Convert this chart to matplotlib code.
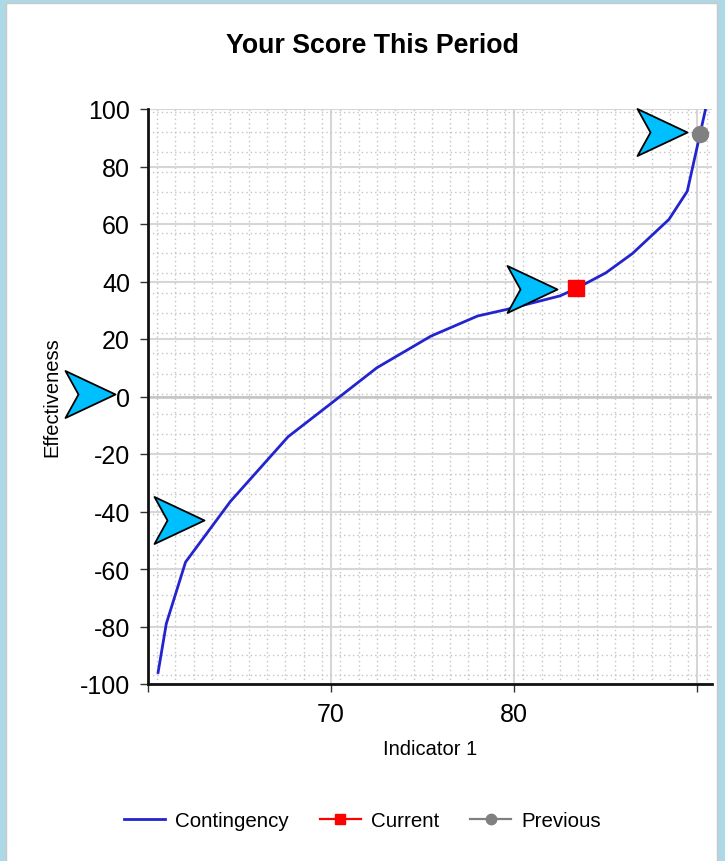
import matplotlib
matplotlib.use('Agg')
import matplotlib.pyplot as plt
from matplotlib.path import Path
from matplotlib.patches import Rectangle
from matplotlib.ticker import MultipleLocator, FixedLocator

plt.rcParams['font.family'] = ['Liberation Sans', 'DejaVu Sans']
plt.rcParams['axes.unicode_minus'] = False

# curve
indicator = [60.55, 61.0, 62.05, 64.5, 67.65, 70.0, 72.5, 75.45, 78.0, 79.6,
             82.5, 83.4, 85.0, 86.45, 88.45, 89.45, 90.15, 90.45]
effectiveness = [-96, -79, -57.6, -36.5, -14, -2.4, 10, 21, 28, 30.3,
                 35, 37.6, 43, 49.7, 61.6, 71.4, 91.4, 100]

current_x, current_y = [83.4], [37.6]
previous_x, previous_y = [90.15], [91.4]

# where the blue pointers aim
pointer_x = [89.44, 82.36, 58.2, 63.06]
pointer_y = [92.1, 37.5, 0.9, -43]

x_ticks = [60, 70, 80, 90]
x_labels = ['', '70', '80', '']
y_ticks = list(range(-100, 101, 20))

fig = plt.figure(figsize=(7.25, 8.62), dpi=100, facecolor='#add8e6')
fig.patches.append(Rectangle((6 / 725, -0.01), 711 / 725, 1 - 4 / 862 + 0.01,
                             transform=fig.transFigure, facecolor='white',
                             edgecolor='#c8c8c8', lw=1, zorder=-5))

ax = fig.add_axes([148 / 725, 1 - 685 / 862, 564 / 725, 575 / 862])
ax.set_facecolor('none')
ax.set_xlim(60, 90.8)
ax.set_ylim(-100, 100)

# grid: solid majors, dotted minors
ax.xaxis.set_major_locator(FixedLocator(x_ticks))
ax.set_xticklabels(x_labels)
ax.yaxis.set_major_locator(FixedLocator(y_ticks))
ax.xaxis.set_minor_locator(MultipleLocator(1, offset=0.5))
ax.yaxis.set_minor_locator(MultipleLocator(7, offset=1))
ax.grid(which='major', color='#d6d6d6', lw=1.5, ls='-')
ax.grid(which='minor', color='#c4c4c4', lw=1.0, ls=(0, (1, 2.2)))
ax.axhline(0, color='#c4c4c4', lw=1.8, zorder=1)
ax.set_axisbelow(True)

for side in ['top', 'right']:
    ax.spines[side].set_visible(False)
for side in ['left', 'bottom']:
    ax.spines[side].set_linewidth(2)
    ax.spines[side].set_color('#111111')

ax.tick_params(which='major', length=6, width=1, color='#333333',
               labelsize=18, pad=7)
ax.tick_params(which='minor', length=0)

ax.plot(indicator, effectiveness, color='#2424cf', lw=2.0, label='Contingency',
        zorder=3)
ax.plot(current_x, current_y, color='#ff0000', marker='s', ms=11.5, lw=1.6,
        label='Current', zorder=4)
ax.plot(previous_x, previous_y, color='#808080', marker='o', ms=11.5, lw=1.6,
        label='Previous', zorder=4, clip_on=False)

# chevron pointer, tip at the origin
chevron = Path([(0, 0), (-50, 23.5), (-37, 0), (-50, -23.5), (0, 0)],
               [Path.MOVETO, Path.LINETO, Path.LINETO, Path.LINETO, Path.CLOSEPOLY])
ax.plot(pointer_x, pointer_y, ls='none', marker=chevron, ms=72,
        mfc='#00bfff', mec='black', mew=1.3, clip_on=False, zorder=5)

fig.text(372 / 725, 1 - 46 / 862, 'Your Score This Period', ha='center',
         va='center', fontsize=19.3, fontweight='bold')
fig.text(430 / 725, 1 - 750 / 862, 'Indicator 1', ha='center', va='center',
         fontsize=14.5)
fig.text(52 / 725, 1 - 397 / 862, 'Effectiveness', ha='center', va='center',
         rotation=90, fontsize=14.5)

handles, labels = ax.get_legend_handles_labels()
fig.legend(handles, labels, loc='center', bbox_to_anchor=(0.5, 1 - 822 / 862),
           ncol=3, frameon=False, fontsize=14.8, handlelength=2.0,
           handletextpad=0.5, columnspacing=1.5, markerscale=0.65)

fig.savefig('out.png', dpi=100, facecolor=fig.get_facecolor())
